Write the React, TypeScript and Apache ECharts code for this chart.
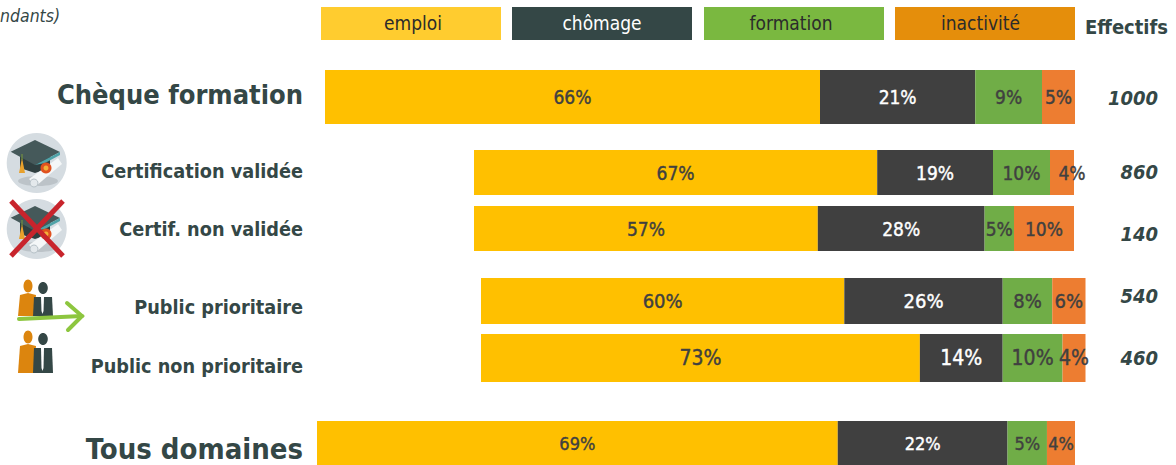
import React, { useEffect, useRef } from "react";
import * as echarts from "echarts";

const categories = ["Chèque formation", "Certification validée", "Certif. non validée", "Public prioritaire", "Public non prioritaire", "Tous domaines"];
const seriesNames = ["emploi", "chômage", "formation", "inactivité"];
const emploi = [66, 67.2, 57.3, 60.1, 72.6, 68.7];
const chomage = [20.7, 19.3, 27.8, 26.2, 13.7, 22.4];
const formation = [8.9, 9.5, 4.9, 8.2, 9.9, 5.2];
const inactivite = [4.4, 4, 10, 5.5, 3.8, 3.7];
const emploiLabels = ["66%", "67%", "57%", "60%", "73%", "69%"];
const chomageLabels = ["21%", "19%", "28%", "26%", "14%", "22%"];
const formationLabels = ["9%", "10%", "5%", "8%", "10%", "5%"];
const inactiviteLabels = ["5%", "4%", "10%", "6%", "4%", "4%"];
const effectifs = ["1000", "860", "140", "540", "460"];

const FONT = '"DejaVu Sans Condensed", "DejaVu Sans", sans-serif';
const DARK = "#344746";
const barColors = ["#FFC000", "#404040", "#70AD47", "#ED7D31"];
const labelColors = ["#404040", "#FFFFFF", "#404040", "#404040"];
const legendColors = ["#FFCC2F", "#344746", "#7AB840", "#E58E0B"];
const legendText = ["#2b2b2b", "#FFFFFF", "#2b2b2b", "#2b2b2b"];
const legendX = [321, 512, 704, 895];
const legendCenter = [413, 602, 791, 980.5];

const geometry = [
  { left: 325, top: 70, width: 750, height: 54, size: 19 },
  { left: 474, top: 150, width: 600, height: 45, size: 19 },
  { left: 474, top: 206, width: 600, height: 45, size: 19 },
  { left: 481, top: 278, width: 604.5, height: 46, size: 20 },
  { left: 481, top: 334, width: 604.5, height: 48, size: 21 },
  { left: 317, top: 421, width: 758, height: 44, size: 18 },
];
const rowLabelStyle = [
  { y: 94, size: 27 }, { y: 171, size: 19.7 }, { y: 229, size: 19.7 },
  { y: 307, size: 19.7 }, { y: 366, size: 19.7 }, { y: 449, size: 29 },
];
const effectifY = [98, 172, 234, 296, 358];
const effectifRight = [1158, 1158, 1158, 1158, 1158];

function text(x: number, y: number, t: string, font: string, fill: string, align = "center") {
  return { type: "text", x, y, silent: true, style: { text: t, font, fill, textAlign: align, textVerticalAlign: "middle" } };
}
function poly(points: number[][], fill: string) {
  return { type: "polygon", shape: { points }, style: { fill } };
}
function gradCap(dy: number) {
  const p = (a: number[][]) => a.map(([x, y]) => [x, y + dy]);
  return [
    { type: "circle", shape: { cx: 36.7, cy: 163 + dy, r: 30 }, style: { fill: "#D5DCE1" } },
    { type: "ellipse", shape: { cx: 38, cy: 181 + dy, rx: 20, ry: 5 }, style: { fill: "#BCC3C8" } },
    poly(p([[20, 155], [50, 155], [50, 168], [35, 173], [20, 168]]), "#2F3F40"),
    poly(p([[10.7, 151.7], [35, 140], [60, 152], [35, 165]]), "#45595A"),
    poly(p([[35, 165], [60, 152], [60, 155], [45, 163]]), "#4FA3A8"),
    poly(p([[22, 158], [19, 173], [25, 173]]), "#E8A12C"),
    { type: "line", shape: { x1: 22, y1: 154 + dy, x2: 22, y2: 160 + dy }, style: { stroke: "#7A9A3A", lineWidth: 1 } },
    poly(p([[29, 179], [58, 158], [62, 164], [36, 186]]), "#F4F7F8"),
    { type: "circle", shape: { cx: 34, cy: 183 + dy, r: 4 }, style: { fill: "#E4E9EC", stroke: "#B7C2C8", lineWidth: 1 } },
    { type: "circle", shape: { cx: 46, cy: 168 + dy, r: 5.5 }, style: { fill: "#E0521F" } },
    { type: "circle", shape: { cx: 46, cy: 168 + dy, r: 2.5 }, style: { fill: "#F3B13A" } },
  ];
}
function people(dy: number, bottom: number) {
  return [
    { type: "ellipse", shape: { cx: 28, cy: 286 + dy, rx: 4.5, ry: 6.5 }, style: { fill: "#DC850E" } },
    poly([[18, bottom], [20, 295 + dy], [28, 293 + dy], [36, 295 + dy], [34, bottom]], "#DC850E"),
    { type: "ellipse", shape: { cx: 43, cy: 288 + dy, rx: 4.8, ry: 6 }, style: { fill: DARK } },
    poly([[33, bottom], [34, 297 + dy], [52, 297 + dy], [53, bottom]], DARK),
    poly([[41, 297 + dy], [44, 297 + dy], [43.5, bottom - 5], [42.5, bottom - 2], [41.5, bottom - 5]], "#FFFFFF"),
  ];
}

export default function App() {
  const ref = useRef<HTMLDivElement>(null);
  useEffect(() => {
    document.body.style.margin = "0";
    const chart = echarts.init(ref.current!, undefined, { renderer: "svg" });
    const values = [emploi, chomage, formation, inactivite];
    const labels = [emploiLabels, chomageLabels, formationLabels, inactiviteLabels];
    const series: any[] = [];
    categories.forEach((cat, row) => {
      values.forEach((v, s) => {
        series.push({
          type: "bar",
          name: seriesNames[s],
          stack: "row" + row,
          xAxisIndex: row,
          yAxisIndex: row,
          barWidth: "100%",
          data: [v[row]],
          itemStyle: { color: barColors[s] },
          label: {
            show: true,
            position: "inside",
            formatter: labels[s][row],
            color: labelColors[s],
            fontFamily: FONT,
            fontSize: geometry[row].size,
            fontWeight: "normal",
            textBorderColor: labelColors[s],
            textBorderWidth: 0.4,
            offset: row === 1 && s === 3 ? [10, 0] : [0, 0],
          },
        });
      });
    });
    const graphic: any[] = [
      text(0, 16, "ndants)", `italic 17.5px ${FONT}`, DARK, "left"),
      text(1085, 27, "Effectifs", `bold 20px ${FONT}`, DARK, "left"),
    ];
    seriesNames.forEach((n, i) => {
      graphic.push({ type: "rect", shape: { x: legendX[i], y: 7, width: 180, height: 33 }, style: { fill: legendColors[i] } });
      graphic.push(text(legendCenter[i], 23, n, `19px ${FONT}`, legendText[i]));
    });
    categories.forEach((c, i) => {
      graphic.push(text(303, rowLabelStyle[i].y, c, `bold ${rowLabelStyle[i].size}px ${FONT}`, DARK, "right"));
    });
    effectifs.forEach((e, i) => {
      graphic.push(text(effectifRight[i], effectifY[i], e, `italic bold 20px ${FONT}`, DARK, "right"));
    });
    graphic.push(...gradCap(0), ...gradCap(66));
    graphic.push(
      { type: "line", shape: { x1: 11, y1: 201, x2: 63, y2: 256 }, style: { stroke: "#C8242C", lineWidth: 5 } },
      { type: "line", shape: { x1: 63, y1: 201, x2: 11, y2: 256 }, style: { stroke: "#C8242C", lineWidth: 5 } },
    );
    graphic.push(...people(0, 316), ...people(51, 373));
    graphic.push(
      { type: "line", shape: { x1: 19, y1: 319, x2: 82, y2: 316 }, style: { stroke: "#8DC63F", lineWidth: 4, lineCap: "round" } },
      { type: "polyline", shape: { points: [[67, 303], [82, 316], [68, 330]] }, style: { stroke: "#8DC63F", lineWidth: 4, lineCap: "round", fill: "none" } },
    );
    chart.setOption({
      animation: false,
      grid: geometry.map((g) => ({ left: g.left, top: g.top, width: g.width, height: g.height, containLabel: false })),
      xAxis: geometry.map((_, i) => ({ type: "value", gridIndex: i, min: 0, max: 100, show: false })),
      yAxis: geometry.map((_, i) => ({ type: "category", gridIndex: i, data: [categories[i]], show: false })),
      series,
      graphic,
    });
    return () => chart.dispose();
  }, []);
  return <div ref={ref} style={{ position: "absolute", left: 0, top: 0, width: 1176, height: 465 }} />;
}
